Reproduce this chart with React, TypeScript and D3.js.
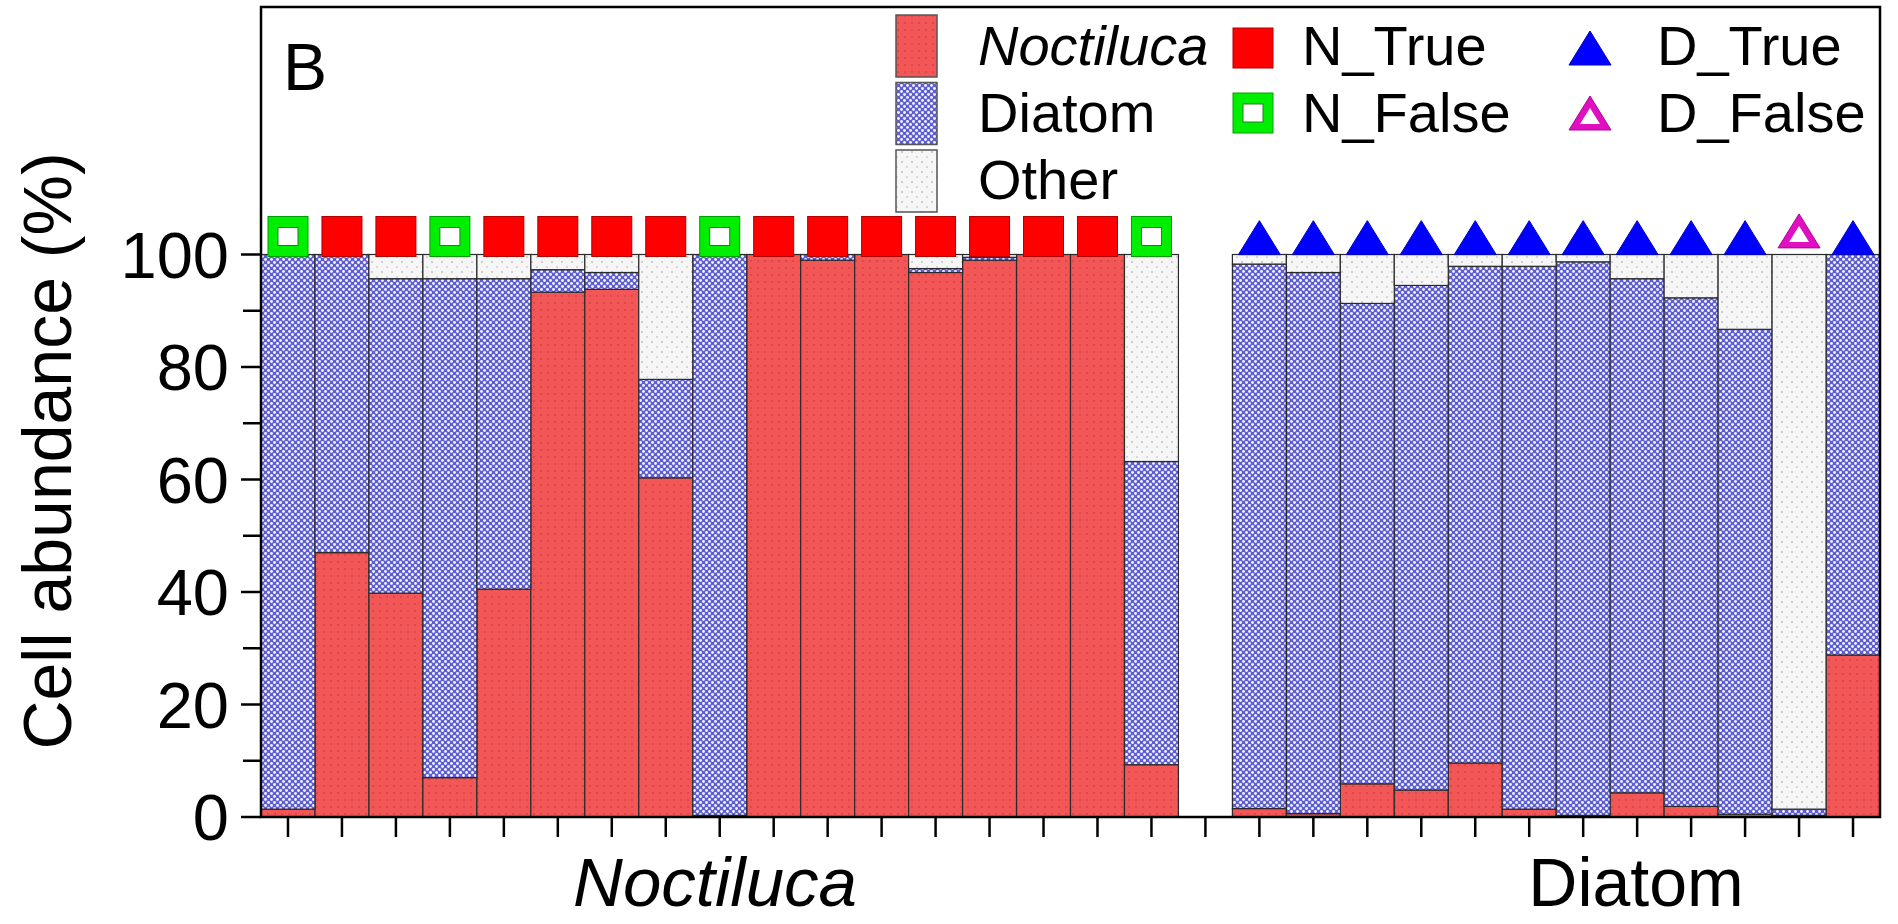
import React from 'react';
import * as d3 from 'd3';

const categories = [
  'N1', 'N2', 'N3', 'N4', 'N5', 'N6', 'N7', 'N8', 'N9', 'N10', 'N11', 'N12', 'N13', 'N14', 'N15', 'N16', 'N17',
  'gap',
  'D1', 'D2', 'D3', 'D4', 'D5', 'D6', 'D7', 'D8', 'D9', 'D10', 'D11', 'D12',
];

const noctiluca = [1.4, 47, 39.8, 7, 40.5, 93.3, 93.8, 60.3, 0.3, 100, 99, 100, 96.8, 99, 100, 100, 9.3, null,
  1.5, 0.6, 5.9, 4.8, 9.6, 1.4, 0.3, 4.3, 1.9, 0.5, 0.3, 28.8];
const diatom = [98.6, 53, 55.9, 88.7, 55.2, 4.0, 3.0, 17.5, 99.7, 0, 1.0, 0, 0.7, 0.5, 0, 0, 53.9, null,
  96.8, 96.2, 85.4, 89.7, 88.3, 96.5, 98.4, 91.4, 90.4, 86.2, 1.1, 71.2];
const other = [0, 0, 4.3, 4.3, 4.3, 2.7, 3.2, 22.2, 0, 0, 0, 0, 2.5, 0.5, 0, 0, 36.8, null,
  1.7, 3.2, 8.7, 5.5, 2.1, 2.1, 1.3, 4.3, 7.7, 13.3, 98.6, 0];

const markerType = ['N_False', 'N_True', 'N_True', 'N_False', 'N_True', 'N_True', 'N_True', 'N_True', 'N_False',
  'N_True', 'N_True', 'N_True', 'N_True', 'N_True', 'N_True', 'N_True', 'N_False', null,
  'D_True', 'D_True', 'D_True', 'D_True', 'D_True', 'D_True', 'D_True', 'D_True', 'D_True', 'D_True', 'D_False', 'D_True'];
const markerValue = [103.2, 103.2, 103.2, 103.2, 103.2, 103.2, 103.2, 103.2, 103.2, 103.2, 103.2, 103.2, 103.2,
  103.2, 103.2, 103.2, 103.2, null, 103, 103, 103, 103, 103, 103, 103, 103, 103, 103, 104.2, 103];

const seriesKeys = ['Noctiluca', 'Diatom', 'Other'];
const markerKeys = ['N_True', 'N_False', 'D_True', 'D_False'];
const yMajorTicks = [0, 20, 40, 60, 80, 100];
const yMinorTicks = [10, 30, 50, 70, 90];
const groupLabels = ['Noctiluca', 'Diatom'];

const W = 1898;
const H = 924;
const FONT = '"Liberation Sans", Arial, Helvetica, sans-serif';

const x = d3.scaleBand<string>().domain(categories).range([261, 1880]).padding(0);
const y = d3.scaleLinear().domain([0, 144]).range([817, 7]);

const fills: Record<string, string> = {
  Noctiluca: 'url(#pNoct)',
  Diatom: 'url(#pDiatom)',
  Other: 'url(#pOther)',
};

function Marker({ type, cx, cy }: { type: string; cx: number; cy: number }) {
  const s = 40;
  if (type === 'N_True') {
    return <rect x={cx - s / 2} y={cy - s / 2} width={s} height={s} fill="#ff0000" stroke="#b00000" strokeWidth={1} />;
  }
  if (type === 'N_False') {
    return (
      <g>
        <rect x={cx - s / 2} y={cy - s / 2} width={s} height={s} fill="#00ee00" stroke="#00a000" strokeWidth={1} />
        <rect x={cx - 10} y={cy - 9} width={20} height={18} fill="#ffffff" stroke="#208020" strokeWidth={1} />
      </g>
    );
  }
  const w = 42;
  const h = 34;
  const path = d3.path();
  path.moveTo(cx, cy - h / 2);
  path.lineTo(cx + w / 2, cy + h / 2);
  path.lineTo(cx - w / 2, cy + h / 2);
  path.closePath();
  if (type === 'D_True') {
    return <path d={path.toString()} fill="#0000ff" stroke="#0000c0" strokeWidth={1} />;
  }
  const inner = d3.path();
  inner.moveTo(cx, cy - h / 2 + 12);
  inner.lineTo(cx + w / 2 - 11, cy + h / 2 - 6);
  inner.lineTo(cx - w / 2 + 11, cy + h / 2 - 6);
  inner.closePath();
  return (
    <g>
      <path d={path.toString()} fill="#e010c0" stroke="#b000a0" strokeWidth={1} />
      <path d={inner.toString()} fill="#ffffff" />
    </g>
  );
}

export default function App() {
  const rows = categories.map((c, i) => ({
    cat: c,
    Noctiluca: noctiluca[i] ?? 0,
    Diatom: diatom[i] ?? 0,
    Other: other[i] ?? 0,
    valid: noctiluca[i] !== null,
  }));
  const stacked = d3.stack<any>().keys(seriesKeys)(rows);
  const bw = x.bandwidth();

  return (
    <svg width={W} height={H} viewBox={`0 0 ${W} ${H}`}
      style={{ position: 'absolute', left: 0, top: 0, display: 'block', background: '#fff' }}
      fontFamily={FONT}>
      <defs>
        <pattern id="pDiatom" patternUnits="userSpaceOnUse" width={6} height={6}>
          <rect width={6} height={6} fill="#5e5ed4" />
          <circle cx={1.5} cy={1.5} r={1.45} fill="#f4f4ff" />
          <circle cx={4.5} cy={4.5} r={1.45} fill="#f4f4ff" />
        </pattern>
        <pattern id="pNoct" patternUnits="userSpaceOnUse" width={7} height={7}>
          <rect width={7} height={7} fill="#f25656" />
          <circle cx={2} cy={2} r={0.7} fill="#b83030" />
        </pattern>
        <pattern id="pOther" patternUnits="userSpaceOnUse" width={10} height={10}>
          <rect width={10} height={10} fill="#f6f6f6" />
          <circle cx={2} cy={2} r={0.8} fill="#9a9a9a" />
          <circle cx={7} cy={7} r={0.8} fill="#b0b0b0" />
        </pattern>
      </defs>
      <rect x={0} y={0} width={W} height={H} fill="#ffffff" />

      {/* bars */}
      {stacked.map((layer) => (
        <g key={layer.key}>
          {layer.map((d, i) => {
            if (!rows[i].valid) return null;
            const h = y(d[0]) - y(d[1]);
            if (h <= 0) return null;
            return (
              <rect key={i} x={x(categories[i])!} y={y(d[1])} width={bw} height={h}
                fill={fills[layer.key]} stroke="#2a2a2a" strokeWidth={1.2} />
            );
          })}
        </g>
      ))}

      {/* markers */}
      {categories.map((c, i) => {
        const t = markerType[i];
        const v = markerValue[i];
        if (!t || v === null) return null;
        return <Marker key={c} type={t} cx={x(c)! + bw / 2} cy={y(v)} />;
      })}

      {/* frame */}
      <rect x={261} y={y(144)} width={1880 - 261} height={y(0) - y(144)} fill="none" stroke="#000" strokeWidth={2.5} />

      {/* y ticks */}
      {yMajorTicks.map((t) => (
        <g key={'M' + t}>
          <line x1={241} x2={261} y1={y(t)} y2={y(t)} stroke="#000" strokeWidth={2.5} />
          <text x={229} y={y(t)} dy="0.36em" textAnchor="end" fontSize={65} fill="#000">{t}</text>
        </g>
      ))}
      {yMinorTicks.map((t) => (
        <line key={'m' + t} x1={243} x2={261} y1={y(t)} y2={y(t)} stroke="#000" strokeWidth={2.5} />
      ))}

      {/* x ticks */}
      {categories.map((c) => (
        <line key={'xt' + c} x1={x(c)! + bw / 2} x2={x(c)! + bw / 2} y1={817} y2={837} stroke="#000" strokeWidth={2.5} />
      ))}

      {/* axis titles */}
      <text transform="translate(71,451) rotate(-90)" textAnchor="middle" fontSize={68} fill="#000">Cell abundance (%)</text>
      <text x={715} y={906} textAnchor="middle" fontSize={69} fontStyle="italic" fill="#000">{groupLabels[0]}</text>
      <text x={1636} y={906} textAnchor="middle" fontSize={68} fill="#000">{groupLabels[1]}</text>

      {/* panel letter */}
      <text x={283} y={90} fontSize={66} fill="#000">B</text>

      {/* legend: bars */}
      {seriesKeys.map((k, i) => (
        <g key={'lg' + k}>
          <rect x={896} y={15 + i * 67.5} width={41} height={62} fill={fills[k]} stroke="#555" strokeWidth={1.5} />
          <text x={978} y={65 + i * 67} fontSize={56} fontStyle={k === 'Noctiluca' ? 'italic' : 'normal'} fill="#000">{k}</text>
        </g>
      ))}

      {/* legend: markers */}
      {markerKeys.map((k, i) => {
        const col = Math.floor(i / 2);
        const row = i % 2;
        const mx = col === 0 ? 1253 : 1590;
        const tx = col === 0 ? 1302 : 1657;
        const cy = 48 + row * 65;
        return (
          <g key={'lm' + k}>
            <Marker type={k} cx={mx} cy={cy} />
            <text x={tx} y={65 + row * 67} fontSize={56} fill="#000">{k}</text>
          </g>
        );
      })}
    </svg>
  );
}
